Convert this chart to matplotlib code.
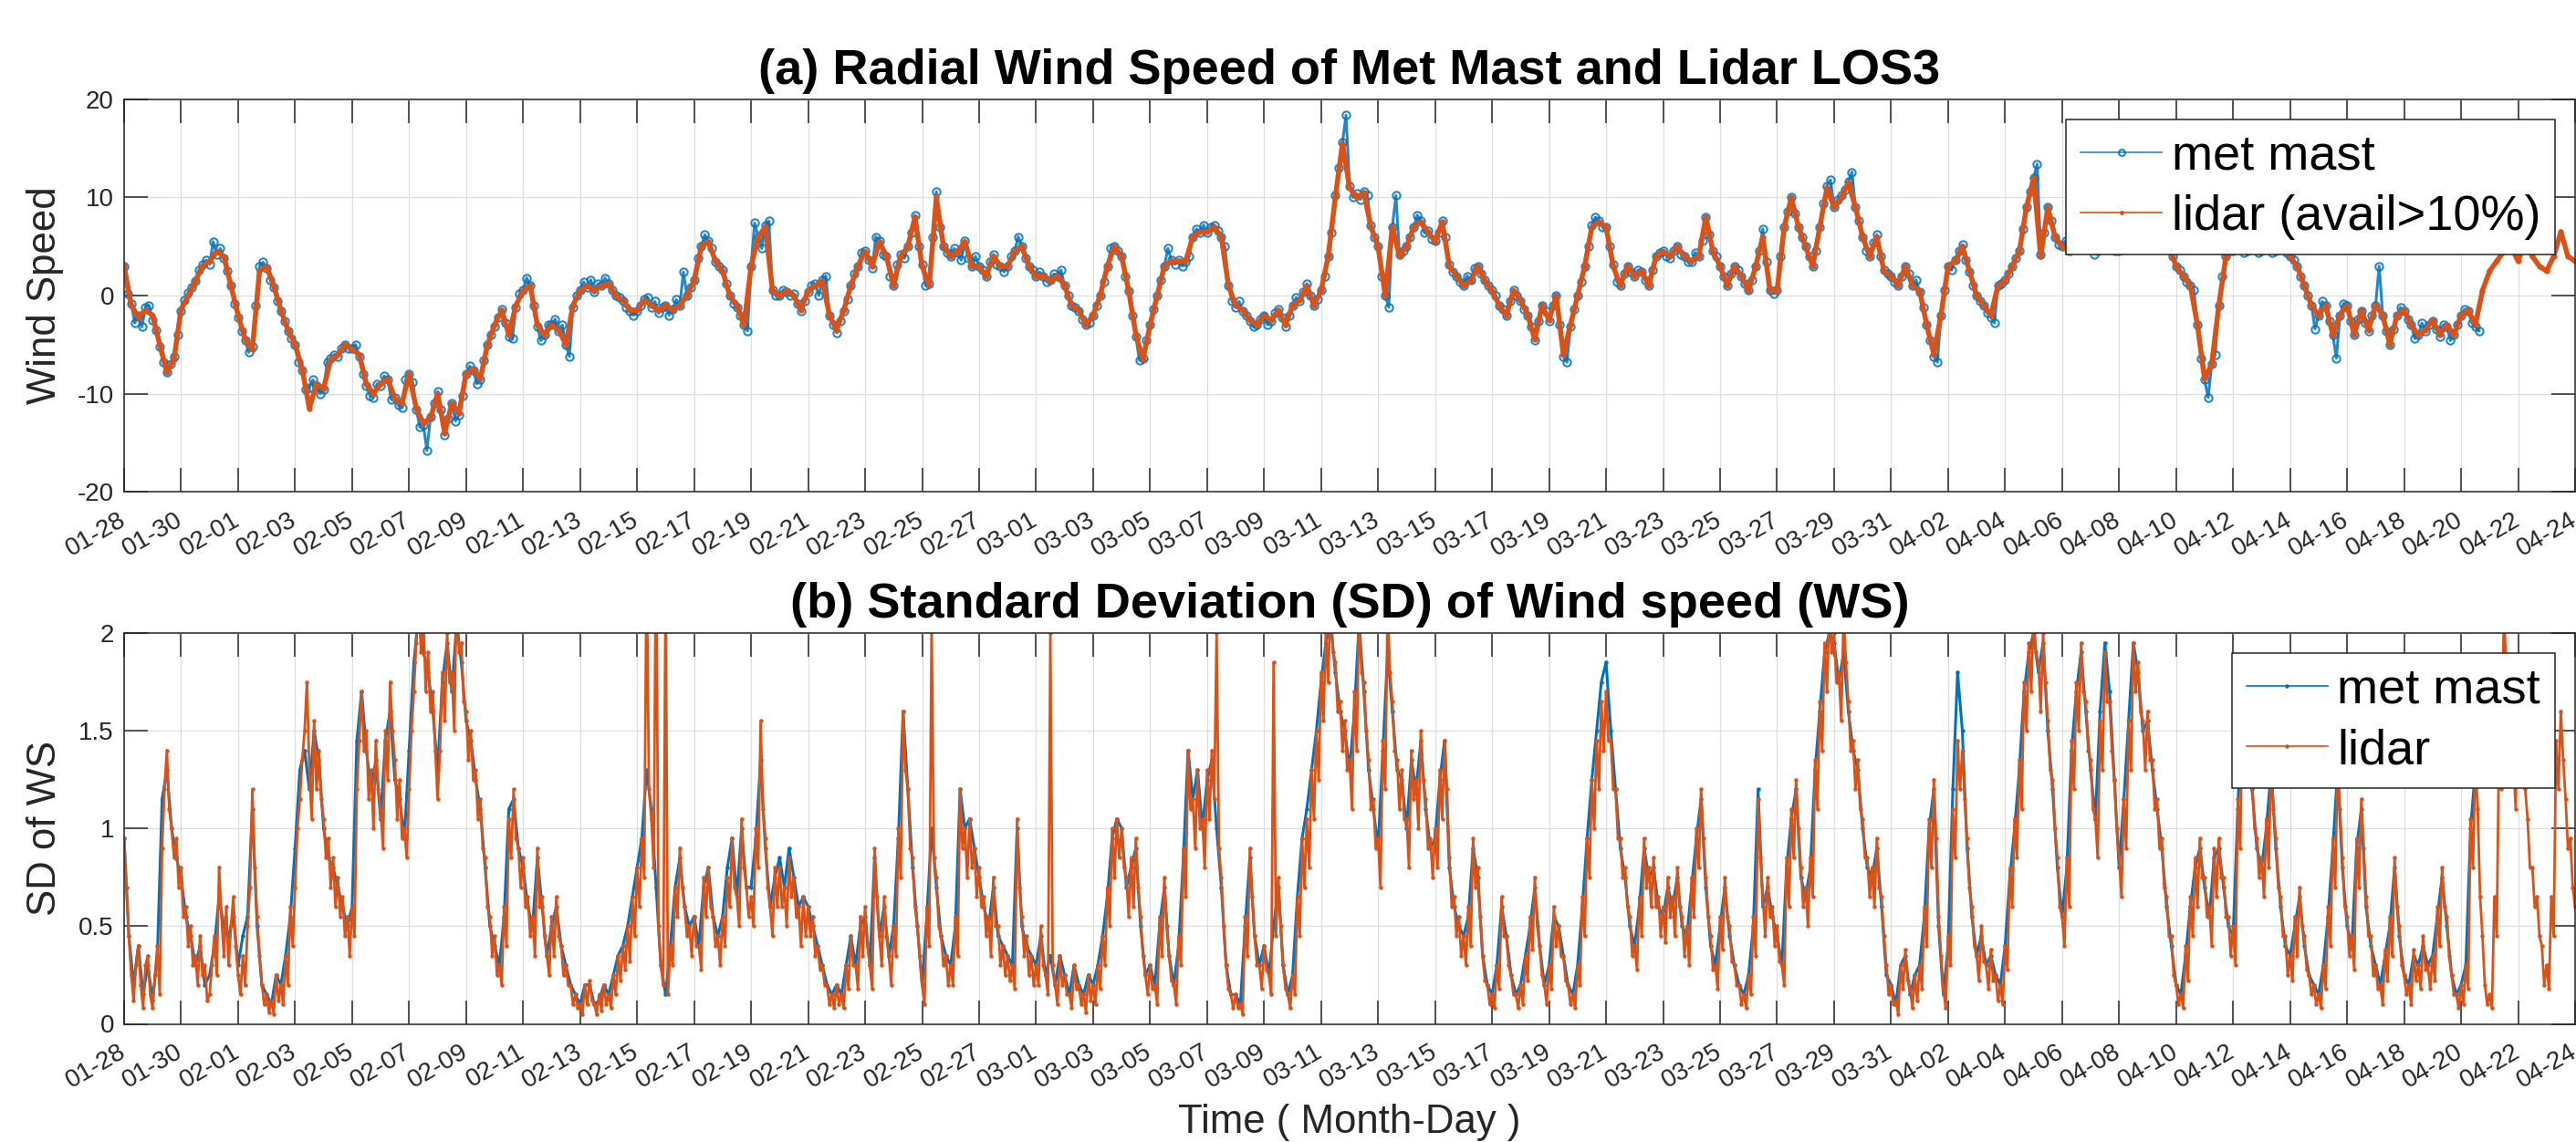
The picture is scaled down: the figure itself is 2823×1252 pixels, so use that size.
import numpy as np
import pandas as pd
import matplotlib
matplotlib.use('Agg')
import matplotlib.pyplot as plt
import matplotlib.dates as mdates

plt.rcParams['font.family'] = ['Liberation Sans', 'DejaVu Sans']
plt.rcParams['axes.unicode_minus'] = False

start = pd.Timestamp('2019-01-28')
end = pd.Timestamp('2019-04-24')

# (a) radial wind speed, met mast, 3-hourly, one row per day from 01-28
ws_mast = [
    [3.0, 0.2, -0.8, -2.8, -2.0, -3.2, -1.2, -1.0],
    [-2.5, -3.5, -5.2, -6.8, -7.8, -7.0, -6.2, -4.0],
    [-1.6, -0.5, 0.3, 0.8, 1.5, 2.6, 3.2, 3.6],
    [3.2, 5.5, 4.2, 4.8, 3.8, 2.5, 1.0, -0.8],
    [-2.2, -3.6, -4.6, -5.8, -5.2, -1.0, 3.0, 3.4],      # 02-01
    [2.8, 1.6, 0.8, -0.6, -1.6, -2.6, -3.6, -4.4],
    [-5.0, -6.8, -7.6, -9.6, -9.4, -8.6, -9.2, -10.0],
    [-9.6, -6.8, -6.4, -6.0, -6.2, -5.4, -5.0, -5.4],
    [-5.4, -5.0, -6.2, -8.0, -9.2, -10.2, -10.4, -9.0],
    [-9.2, -8.2, -8.6, -10.6, -10.4, -11.2, -11.4, -8.6],
    [-8.0, -8.8, -11.6, -13.4, -13.2, -15.8, -12.4, -11.0],
    [-9.8, -11.6, -14.2, -12.6, -11.0, -12.8, -12.2, -10.2],
    [-8.0, -7.2, -7.6, -9.0, -8.6, -6.6, -5.0, -4.0],
    [-3.2, -2.2, -1.4, -2.8, -4.2, -4.4, -1.2, 0.2],
    [0.6, 1.8, 1.0, -1.0, -3.2, -4.6, -4.0, -3.0],
    [-3.0, -2.4, -3.6, -3.0, -5.0, -6.2, -1.2, 0.0],
    [0.6, 1.4, 0.8, 1.6, 0.4, 1.2, 1.0, 1.8],
    [1.2, 0.6, 0.0, -0.2, -0.6, -1.2, -1.6, -2.0],
    [-1.6, -1.0, -0.4, -0.2, -1.2, -0.6, -1.8, -1.2],    # 02-15
    [-1.0, -2.0, -1.4, -0.4, -1.0, 2.4, 0.0, 0.8],
    [1.6, 3.8, 5.0, 6.2, 5.6, 4.8, 3.4, 3.0],
    [2.6, 1.2, 0.0, -0.8, -1.2, -2.0, -3.0, -3.6],
    [3.0, 7.4, 6.0, 4.8, 7.2, 7.6, 0.6, 0.0],
    [0.0, 0.6, 0.4, 0.0, 0.2, -0.8, -1.6, -0.6],
    [0.4, 1.0, 1.2, 0.0, 1.6, 2.0, -2.0, -3.0],
    [-3.8, -2.6, -1.6, -0.4, 1.0, 2.2, 3.0, 4.4],
    [4.6, 3.6, 2.8, 6.0, 5.6, 4.2, 4.0, 2.0],
    [1.0, 3.2, 4.2, 3.8, 5.0, 6.4, 8.2, 5.0],
    [3.2, 1.0, 1.2, 6.0, 10.6, 7.0, 5.0, 4.4],
    [4.0, 4.8, 4.4, 3.6, 5.6, 3.8, 3.0, 4.0],
    [3.0, 2.6, 2.0, 3.4, 4.2, 3.2, 3.0, 2.4],
    [3.0, 4.0, 4.6, 6.0, 5.0, 3.8, 3.0, 2.6],
    [2.0, 2.4, 2.0, 1.4, 1.6, 2.2, 2.0, 2.6],            # 03-01
    [1.0, 0.0, -1.0, -1.2, -1.6, -2.4, -3.0, -2.8],
    [-2.0, -1.0, 0.0, 1.4, 3.0, 4.8, 5.0, 4.6],
    [4.0, 2.0, 0.5, -2.0, -4.2, -6.6, -6.4, -4.6],
    [-3.0, -1.4, 0.0, 1.6, 3.0, 4.8, 3.6, 3.2],
    [3.6, 3.0, 3.4, 4.0, 6.0, 6.8, 6.4, 7.2],
    [6.4, 7.0, 7.2, 6.6, 6.0, 5.0, 1.0, -0.6],
    [-1.2, -0.6, -1.6, -2.0, -2.6, -3.2, -3.0, -2.4],
    [-2.0, -3.0, -2.6, -1.8, -1.4, -2.2, -3.2, -2.0],
    [-1.0, -0.2, -0.6, 0.4, 1.2, 0.0, -1.0, -0.4],
    [0.6, 2.0, 4.0, 6.4, 10.2, 13.0, 15.6, 18.4],
    [11.2, 10.0, 10.4, 9.8, 10.6, 10.2, 7.2, 6.0],
    [5.0, 2.0, 0.0, -1.2, 7.0, 10.2, 4.2, 4.6],
    [5.0, 6.0, 7.0, 8.2, 7.6, 6.4, 6.6, 5.8],
    [5.6, 6.4, 7.6, 6.0, 3.2, 2.4, 2.0, 1.4],            # 03-15
    [1.0, 2.0, 1.6, 2.8, 3.0, 2.2, 1.6, 1.0],
    [0.6, 0.0, -1.0, -1.4, -2.0, -0.6, 0.6, 0.0],
    [-0.6, -1.4, -2.0, -3.2, -4.6, -2.6, -1.0, -1.6],
    [-2.6, -1.0, 0.0, -3.0, -6.2, -6.8, -3.2, -1.4],
    [0.0, 1.4, 3.0, 5.0, 7.2, 8.0, 7.6, 7.0],
    [7.0, 5.0, 3.2, 1.4, 1.0, 2.2, 3.0, 2.4],
    [2.0, 2.6, 2.4, 1.6, 1.0, 2.6, 4.0, 4.4],
    [4.6, 4.0, 3.8, 4.6, 5.0, 4.2, 4.0, 3.4],
    [3.4, 4.4, 4.0, 5.6, 8.0, 6.2, 4.6, 4.0],
    [3.0, 2.0, 1.0, 2.2, 3.0, 2.6, 2.0, 1.2],
    [0.6, 1.6, 3.0, 4.6, 6.8, 3.4, 0.6, 0.2],
    [0.6, 4.0, 7.0, 8.6, 10.0, 8.4, 7.0, 6.0],
    [5.0, 4.0, 3.0, 4.6, 7.0, 9.4, 11.2, 11.8],
    [9.0, 9.8, 10.2, 10.8, 11.6, 12.6, 9.0, 7.6],
    [6.0, 4.6, 4.0, 5.4, 6.2, 4.0, 2.6, 2.2],
    [2.0, 1.4, 1.0, 2.0, 3.0, 2.2, 1.0, 1.6],
    [0.4, -1.2, -3.0, -4.6, -6.2, -6.8, -2.0, 0.6],       # 04-01
    [3.0, 2.6, 3.6, 4.6, 5.2, 3.6, 2.4, 1.0],
    [0.0, -0.6, -1.0, -1.8, -2.2, -2.8, 1.0, 1.2],
    [1.6, 2.2, 3.0, 3.8, 4.6, 6.8, 9.0, 10.6],
    [12.0, 13.4, 4.2, 6.4, 9.0, 7.6, 6.0, 5.2],
    [5.0, 5.6, 4.6, 6.4, 9.2, 7.8, 6.0, 5.0],
    [5.0, 4.2, 4.6, 5.4, 6.0, 5.4, 5.0, 4.6],
    [4.6, 5.2, 6.0, 5.6, 5.0, 5.8, 5.6, 5.0],
    [6.0, 5.4, 6.0, 5.6, 5.0, 5.4, 5.0, 4.0],
    [3.0, 2.6, 2.0, 1.4, 1.0, 0.6, -3.0, -6.4],
    [-8.6, -10.4, -7.0, -6.0, -1.0, 2.0, 4.0, 4.6],
    [4.6, 5.4, 5.0, 4.4, 4.6, 5.6, 5.0, 4.4],
    [4.6, 5.0, 5.0, 4.4, 4.6, 5.4, 5.0, 4.4],
    [4.0, 3.6, 3.0, 2.0, 1.0, 0.0, -1.0, -3.4],
    [-2.0, -0.6, -1.0, -2.6, -4.0, -6.4, -2.0, -0.8],
    [-1.0, -2.6, -4.0, -2.4, -1.6, -2.8, -3.6, -2.0],
    [-1.0, 3.0, -2.0, -3.6, -5.0, -3.4, -2.0, -1.2],
    [-1.6, -2.4, -3.0, -4.4, -4.0, -2.8, -3.6, -3.0],
    [-2.6, -3.4, -4.2, -3.0, -3.2, -4.6, -4.0, -3.0],
    [-2.0, -1.4, -1.6, -2.8, -3.2, -3.6],                # 04-20
]

# (a) radial wind speed, lidar LOS3, 6-hourly, one row per day from 01-28
ws_lidar = [
    [3.0, -1.0, -2.2, -1.5], [-2.0, -5.0, -7.8, -6.5], [-1.4, 0.0, 1.5, 3.0],
    [3.5, 4.5, 4.0, 1.0], [-2.0, -4.5, -5.5, 2.5], [3.0, 1.0, -1.5, -3.5],
    [-5.0, -7.5, -11.5, -9.0], [-9.5, -6.5, -6.0, -5.0], [-5.5, -6.0, -9.0, -10.0],
    [-9.0, -8.5, -10.5, -11.0], [-8.0, -11.5, -13.0, -12.5], [-10.0, -14.0, -11.0, -12.0],
    [-8.0, -7.5, -8.5, -5.0], [-3.0, -1.5, -4.0, -1.0], [0.5, 1.0, -3.0, -4.0],
    [-3.0, -3.5, -5.0, -1.0], [0.5, 1.0, 0.5, 1.0], [1.2, 0.0, -0.5, -1.5],
    [-1.5, -0.5, -1.0, -1.5], [-1.0, -1.5, -1.0, 0.0], [1.5, 5.0, 5.5, 3.5],
    [2.5, 0.0, -1.0, -3.0], [3.0, 6.0, 7.0, 0.5], [0.0, 0.5, 0.0, -1.5],
    [0.5, 1.0, 1.5, -2.0], [-3.5, -1.5, 1.0, 3.0], [4.5, 3.0, 5.5, 4.0],
    [1.0, 4.0, 5.0, 8.0], [3.0, 1.0, 10.0, 5.0], [4.0, 4.5, 5.5, 3.0],
    [3.0, 2.0, 4.0, 3.0], [3.0, 4.5, 5.0, 3.0], [2.0, 2.0, 1.5, 2.0],
    [1.0, -1.0, -1.5, -3.0], [-2.0, 0.0, 3.0, 5.0], [4.0, 0.5, -4.0, -6.5],
    [-3.0, 0.0, 3.0, 3.5], [3.5, 3.5, 6.0, 6.5], [6.5, 7.0, 6.0, 1.0],
    [-1.0, -1.5, -2.5, -3.0], [-2.0, -2.5, -1.5, -3.0], [-1.0, -0.5, 1.0, -1.0],
    [0.5, 4.0, 10.0, 15.5], [11.0, 10.0, 10.5, 7.0], [5.0, 0.0, 7.0, 4.0],
    [5.0, 7.0, 7.5, 6.5], [5.5, 7.5, 3.0, 2.0], [1.0, 1.5, 3.0, 1.5],
    [0.5, -1.0, -2.0, 0.5], [-0.5, -2.0, -4.5, -1.0], [-2.5, 0.0, -6.0, -3.0],
    [0.0, 3.0, 7.0, 7.5], [7.0, 3.0, 1.0, 3.0], [2.0, 2.5, 1.0, 4.0],
    [4.5, 4.0, 5.0, 4.0], [3.5, 4.0, 8.0, 4.5], [3.0, 1.0, 3.0, 2.0],
    [0.5, 3.0, 6.0, 0.5], [0.5, 7.0, 10.0, 7.0], [5.0, 3.0, 7.0, 11.0],
    [9.0, 10.0, 11.5, 9.0], [6.0, 4.0, 6.0, 2.5], [2.0, 1.0, 3.0, 1.0],
    [0.5, -3.0, -6.0, -2.0], [3.0, 3.5, 5.0, 2.5], [0.0, -1.0, -2.0, 1.0],
    [1.5, 3.0, 4.5, 9.0], [12.0, 4.0, 9.0, 6.0], [5.0, 4.5, 9.0, 6.0],
    [5.0, 4.5, 6.0, 5.0], [4.5, 6.0, 5.0, 5.5], [6.0, 6.0, 5.0, 5.0],
    [3.0, 2.0, 1.0, -3.0], [-8.5, -7.0, -1.0, 4.0], [4.5, 5.0, 4.5, 5.0],
    [4.5, 5.0, 4.5, 5.0], [4.0, 3.0, 1.0, -1.0], [-2.0, -1.0, -4.0, -2.0],
    [-1.0, -4.0, -1.5, -3.5], [-1.0, -2.0, -5.0, -2.0], [-1.5, -3.0, -4.0, -3.5],
    [-2.5, -4.0, -3.0, -4.0], [-2.0, -1.5, -3.0, 0.5], [2.5, 3.5, 4.5, 5.0],
    [3.5, 5.5, 4.0, 3.0], [2.5, 4.0, 6.5, 4.0], [3.5],
]

# (b) SD of wind speed, met mast, 4-hourly, one row per day from 01-28
sd_mast = [
    [0.95, 0.45, 0.2, 0.4, 0.15, 0.3], [0.12, 0.35, 1.15, 1.3, 1.0, 0.85],
    [0.75, 0.55, 0.45, 0.3, 0.4, 0.2], [0.25, 0.4, 0.65, 0.5, 0.45, 0.55],
    [0.3, 0.45, 0.55, 1.1, 0.5, 0.2], [0.15, 0.1, 0.25, 0.2, 0.35, 0.55],
    [0.9, 1.3, 1.4, 1.2, 1.5, 1.35], [1.0, 0.85, 0.8, 0.7, 0.6, 0.5],
    [0.6, 1.45, 1.7, 1.4, 1.2, 1.35], [1.05, 1.45, 1.6, 1.25, 1.15, 0.95],
    [1.4, 1.85, 2.1, 1.9, 1.8, 1.6], [1.3, 1.75, 1.95, 1.7, 2.05, 1.85],
    [1.55, 1.45, 1.25, 1.1, 0.8, 0.5], [0.4, 0.3, 0.55, 1.1, 1.15, 0.9],
    [0.8, 0.6, 0.5, 0.85, 0.6, 0.35], [0.5, 0.6, 0.4, 0.3, 0.2, 0.15],
    [0.1, 0.2, 0.2, 0.1, 0.12, 0.2], [0.15, 0.25, 0.35, 0.4, 0.5, 0.65],
    [0.8, 0.95, 1.3, 1.1, 0.7, 0.3], [0.15, 0.4, 0.7, 0.85, 0.6, 0.5],
    [0.55, 0.4, 0.7, 0.8, 0.55, 0.45], [0.55, 0.8, 0.95, 0.65, 1.0, 0.7],
    [0.7, 0.95, 1.35, 0.9, 0.6, 0.75], [0.85, 0.7, 0.9, 0.75, 0.6, 0.65],
    [0.6, 0.5, 0.4, 0.3, 0.2, 0.15], [0.2, 0.15, 0.3, 0.45, 0.3, 0.5],
    [0.55, 0.3, 0.85, 0.45, 0.6, 0.35], [0.5, 0.95, 1.6, 1.2, 0.8, 0.5],
    [0.2, 0.55, 1.0, 0.7, 0.45, 0.35], [0.3, 0.5, 1.2, 1.0, 1.05, 0.9],
    [0.75, 0.6, 0.5, 0.7, 0.45, 0.4], [0.35, 0.3, 1.0, 0.5, 0.4, 0.35],
    [0.3, 0.45, 0.25, 0.35, 0.2, 0.35], [0.25, 0.15, 0.3, 0.2, 0.15, 0.25],
    [0.2, 0.3, 0.45, 0.65, 0.95, 1.05], [1.0, 0.7, 0.8, 0.9, 0.5, 0.25],
    [0.3, 0.2, 0.5, 0.7, 0.35, 0.2], [0.4, 0.85, 1.4, 1.15, 1.3, 1.0],
    [1.25, 1.35, 1.0, 0.7, 0.3, 0.15], [0.15, 0.1, 0.5, 0.85, 0.45, 0.3],
    [0.4, 0.25, 0.5, 0.7, 0.3, 0.15], [0.25, 0.65, 0.95, 1.1, 1.3, 1.5],
    [1.75, 1.95, 2.05, 1.8, 1.6, 1.5], [1.3, 1.6, 2.05, 1.7, 1.3, 1.1],
    [0.9, 1.4, 1.9, 1.6, 1.3, 1.25], [1.0, 1.35, 1.2, 1.45, 1.1, 0.9],
    [0.95, 1.25, 1.45, 0.8, 0.6, 0.5], [0.45, 0.55, 0.9, 0.75, 0.35, 0.2],
    [0.15, 0.3, 0.6, 0.45, 0.25, 0.15], [0.2, 0.35, 0.5, 0.7, 0.4, 0.2],
    [0.3, 0.55, 0.5, 0.35, 0.2, 0.15], [0.3, 0.6, 0.95, 1.25, 1.5, 1.75],
    [1.85, 1.5, 1.2, 0.9, 0.75, 0.5], [0.4, 0.6, 0.9, 0.75, 0.8, 0.6],
    [0.55, 0.7, 0.6, 0.75, 0.5, 0.45], [0.7, 0.95, 1.15, 0.7, 0.4, 0.3],
    [0.5, 0.7, 0.45, 0.3, 0.2, 0.15], [0.25, 0.5, 1.2, 0.6, 0.7, 0.55],
    [0.45, 0.3, 0.8, 1.05, 1.2, 0.75], [0.65, 0.8, 1.3, 1.6, 1.9, 2.0],
    [1.95, 1.75, 1.9, 1.6, 1.4, 1.3], [1.0, 0.8, 0.75, 0.9, 0.6, 0.25],
    [0.2, 0.1, 0.3, 0.35, 0.15, 0.25], [0.3, 0.55, 1.0, 1.2, 0.5, 0.15],
    [0.4, 1.2, 1.8, 1.5, 0.9, 0.55], [0.35, 0.45, 0.3, 0.35, 0.25, 0.2],
    [0.4, 0.75, 1.0, 1.3, 1.7, 1.9], [2.0, 1.8, 1.95, 1.5, 1.2, 0.8],
    [0.55, 0.8, 1.4, 1.7, 1.9, 1.6], [1.3, 1.05, 1.6, 1.95, 1.7, 1.25],
    [0.8, 1.15, 1.55, 1.95, 1.8, 1.5], [1.55, 1.3, 1.1, 0.9, 0.6, 0.4],
    [0.2, 0.15, 0.35, 0.6, 0.8, 0.9], [0.7, 0.55, 0.85, 0.9, 0.7, 0.5],
    [0.45, 1.1, 1.7, 1.5, 1.2, 0.9], [0.8, 1.0, 1.3, 0.9, 0.6, 0.4],
    [0.35, 0.5, 0.65, 0.4, 0.25, 0.2], [0.15, 0.3, 0.55, 0.9, 1.3, 0.8],
    [0.5, 0.4, 0.9, 1.1, 0.6, 0.4], [0.3, 0.2, 0.35, 0.5, 0.8, 0.45],
    [0.25, 0.2, 0.35, 0.3, 0.4, 0.3], [0.35, 0.55, 0.75, 0.5, 0.25, 0.15],
    [0.2, 0.3, 1.0, 1.3],
]

# (b) SD of wind speed, lidar, 2-hourly, one row per day from 01-28
sd_lidar = [
    [0.95, 0.7, 0.45, 0.25, 0.12, 0.3, 0.4, 0.2, 0.08, 0.3, 0.35, 0.15],
    [0.08, 0.25, 0.4, 0.15, 0.9, 1.2, 1.4, 1.1, 1.0, 0.85, 0.95, 0.7],
    [0.8, 0.55, 0.6, 0.4, 0.5, 0.3, 0.35, 0.2, 0.45, 0.25, 0.3, 0.12],
    [0.15, 0.3, 0.45, 0.25, 0.8, 0.55, 0.35, 0.6, 0.3, 0.5, 0.65, 0.4],
    [0.25, 0.15, 0.35, 0.2, 0.5, 0.7, 1.2, 0.8, 0.55, 0.35, 0.2, 0.1],      # 02-01
    [0.15, 0.06, 0.12, 0.05, 0.25, 0.12, 0.2, 0.1, 0.35, 0.2, 0.6, 0.4],
    [0.7, 1.0, 1.15, 1.35, 1.5, 1.75, 1.3, 1.05, 1.55, 1.2, 1.4, 1.15],
    [1.05, 0.85, 0.95, 0.7, 0.85, 0.6, 0.75, 0.55, 0.65, 0.45, 0.55, 0.35],
    [0.6, 0.45, 1.2, 1.45, 1.7, 1.4, 1.5, 1.15, 1.3, 1.0, 1.45, 1.2],
    [1.1, 0.9, 1.5, 1.25, 1.75, 1.5, 1.35, 1.05, 1.25, 0.95, 1.0, 0.85],
    [1.2, 1.5, 1.7, 1.95, 2.2, 1.9, 2.1, 1.7, 1.9, 1.6, 1.7, 1.4],
    [1.15, 1.4, 1.8, 1.55, 2.0, 1.75, 1.8, 1.5, 2.2, 1.9, 1.95, 1.65],
    [1.6, 1.35, 1.5, 1.25, 1.3, 1.05, 1.15, 0.9, 0.85, 0.6, 0.55, 0.35],
    [0.45, 0.25, 0.3, 0.2, 0.6, 0.4, 1.05, 0.85, 1.2, 0.95, 0.9, 0.7],
    [0.85, 0.6, 0.65, 0.45, 0.55, 0.35, 0.9, 0.6, 0.65, 0.45, 0.35, 0.25],
    [0.55, 0.35, 0.65, 0.45, 0.4, 0.25, 0.3, 0.2, 0.2, 0.1, 0.15, 0.08],
    [0.1, 0.05, 0.2, 0.1, 0.22, 0.12, 0.1, 0.05, 0.15, 0.07, 0.2, 0.1],
    [0.15, 0.08, 0.25, 0.15, 0.35, 0.22, 0.4, 0.28, 0.5, 0.32, 0.65, 0.45],
    [0.8, 0.6, 0.95, 0.75, 2.4, 1.2, 1.05, 0.8, 2.6, 0.5, 0.3, 0.2],        # 02-15
    [2.3, 0.15, 0.4, 0.3, 0.7, 0.55, 0.9, 0.7, 0.6, 0.45, 0.5, 0.35],
    [0.55, 0.4, 0.4, 0.28, 0.75, 0.55, 0.8, 0.6, 0.55, 0.4, 0.45, 0.3],
    [0.55, 0.4, 0.75, 0.6, 0.95, 0.7, 0.65, 0.5, 1.05, 0.8, 0.7, 0.55],
    [0.65, 0.5, 1.0, 0.8, 1.55, 1.1, 0.95, 0.7, 0.6, 0.45, 0.8, 0.6],
    [0.8, 0.6, 0.7, 0.5, 0.85, 0.65, 0.75, 0.55, 0.6, 0.4, 0.65, 0.45],
    [0.6, 0.45, 0.55, 0.35, 0.4, 0.28, 0.3, 0.2, 0.2, 0.1, 0.15, 0.08],
    [0.2, 0.1, 0.15, 0.08, 0.3, 0.18, 0.45, 0.3, 0.3, 0.18, 0.55, 0.35],
    [0.6, 0.4, 0.3, 0.18, 0.9, 0.65, 0.45, 0.3, 0.65, 0.45, 0.35, 0.2],
    [0.5, 0.35, 1.0, 0.75, 1.6, 1.3, 1.2, 0.9, 0.85, 0.6, 0.5, 0.35],
    [0.2, 0.1, 0.6, 0.4, 2.05, 0.85, 0.75, 0.5, 0.45, 0.3, 0.35, 0.2],
    [0.3, 0.2, 0.55, 0.35, 1.2, 0.9, 1.0, 0.75, 1.05, 0.8, 0.9, 0.65],
    [0.8, 0.6, 0.65, 0.45, 0.55, 0.35, 0.75, 0.5, 0.5, 0.3, 0.4, 0.25],
    [0.35, 0.22, 0.3, 0.18, 1.05, 0.7, 0.55, 0.35, 0.45, 0.25, 0.35, 0.2],
    [0.3, 0.2, 0.5, 0.3, 0.25, 0.15, 2.0, 0.3, 0.2, 0.1, 0.35, 0.2],        # 03-01
    [0.25, 0.15, 0.15, 0.08, 0.3, 0.18, 0.2, 0.1, 0.15, 0.06, 0.25, 0.12],
    [0.2, 0.1, 0.3, 0.18, 0.45, 0.3, 0.7, 0.5, 1.0, 0.75, 1.05, 0.85],
    [1.0, 0.8, 0.75, 0.55, 0.85, 0.6, 0.95, 0.7, 0.55, 0.35, 0.25, 0.15],
    [0.3, 0.18, 0.2, 0.1, 0.55, 0.35, 0.75, 0.5, 0.35, 0.22, 0.2, 0.1],
    [0.45, 0.3, 0.9, 0.65, 1.4, 1.1, 1.15, 0.9, 1.3, 1.0, 1.05, 0.8],
    [1.3, 1.05, 1.4, 1.15, 2.0, 0.9, 0.75, 0.5, 0.3, 0.18, 0.15, 0.08],
    [0.15, 0.08, 0.1, 0.05, 0.55, 0.35, 0.9, 0.65, 0.45, 0.3, 0.3, 0.18],
    [0.4, 0.28, 0.25, 0.15, 1.85, 0.45, 0.75, 0.5, 0.3, 0.18, 0.15, 0.08],
    [0.25, 0.15, 0.65, 0.45, 0.95, 0.7, 1.05, 0.8, 1.3, 1.05, 1.5, 1.25],
    [1.8, 1.55, 2.0, 1.75, 2.2, 1.9, 1.85, 1.6, 1.65, 1.4, 1.55, 1.3],
    [1.35, 1.1, 1.7, 1.4, 2.15, 1.8, 1.75, 1.5, 1.35, 1.1, 1.15, 0.9],
    [0.95, 0.7, 1.45, 1.2, 2.15, 1.8, 1.65, 1.4, 1.35, 1.1, 1.3, 1.05],
    [1.05, 0.8, 1.4, 1.15, 1.25, 1.0, 1.5, 1.25, 1.15, 0.9, 0.95, 0.75],
    [1.0, 0.8, 1.3, 1.05, 1.45, 1.2, 0.85, 0.6, 0.65, 0.45, 0.55, 0.35],    # 03-15
    [0.45, 0.3, 0.6, 0.4, 0.95, 0.7, 0.8, 0.55, 0.35, 0.22, 0.2, 0.1],
    [0.15, 0.08, 0.3, 0.18, 0.65, 0.45, 0.45, 0.3, 0.25, 0.15, 0.15, 0.08],
    [0.2, 0.1, 0.35, 0.22, 0.55, 0.38, 0.75, 0.5, 0.4, 0.25, 0.2, 0.1],
    [0.3, 0.18, 0.6, 0.4, 0.5, 0.35, 0.35, 0.22, 0.2, 0.1, 0.15, 0.08],
    [0.3, 0.2, 0.65, 0.45, 0.95, 0.75, 1.25, 1.0, 1.45, 1.2, 1.65, 1.4],
    [1.7, 1.45, 1.45, 1.2, 1.2, 0.95, 0.95, 0.75, 0.8, 0.6, 0.55, 0.35],
    [0.4, 0.28, 0.65, 0.45, 0.95, 0.7, 0.8, 0.6, 0.85, 0.6, 0.65, 0.45],
    [0.6, 0.42, 0.75, 0.55, 0.65, 0.45, 0.8, 0.6, 0.55, 0.35, 0.5, 0.3],
    [0.75, 0.55, 1.0, 0.8, 1.2, 0.95, 0.75, 0.55, 0.45, 0.28, 0.3, 0.18],
    [0.55, 0.38, 0.75, 0.55, 0.5, 0.32, 0.3, 0.2, 0.2, 0.1, 0.15, 0.08],
    [0.25, 0.15, 0.55, 0.35, 1.15, 0.85, 0.65, 0.45, 0.75, 0.55, 0.6, 0.4],
    [0.5, 0.32, 0.3, 0.2, 0.85, 0.6, 1.1, 0.85, 1.25, 1.0, 0.8, 0.6],
    [0.7, 0.5, 0.85, 0.65, 1.35, 1.1, 1.65, 1.4, 1.95, 1.7, 2.1, 1.9],
    [2.0, 1.75, 1.8, 1.55, 2.1, 1.85, 1.65, 1.4, 1.45, 1.2, 1.35, 1.1],
    [1.05, 0.85, 0.85, 0.65, 0.8, 0.6, 0.95, 0.7, 0.65, 0.45, 0.3, 0.15],
    [0.2, 0.1, 0.12, 0.05, 0.3, 0.18, 0.38, 0.22, 0.18, 0.08, 0.25, 0.12],
    [0.3, 0.18, 0.6, 0.4, 1.05, 0.8, 1.25, 0.95, 0.55, 0.35, 0.18, 0.08],   # 04-01
    [0.45, 0.3, 1.1, 0.85, 1.45, 1.2, 1.4, 1.15, 0.95, 0.7, 0.6, 0.4],
    [0.35, 0.22, 0.5, 0.32, 0.3, 0.18, 0.38, 0.22, 0.25, 0.12, 0.2, 0.1],
    [0.4, 0.28, 0.8, 0.6, 1.05, 0.85, 1.35, 1.1, 1.75, 1.5, 1.95, 1.7],
    [2.1, 1.9, 1.85, 1.6, 2.0, 1.75, 1.55, 1.3, 1.25, 1.0, 0.85, 0.6],
    [0.55, 0.4, 0.85, 0.6, 1.45, 1.2, 1.75, 1.5, 1.95, 1.7, 1.65, 1.4],
    [1.35, 1.1, 1.05, 0.85, 1.55, 1.3, 1.9, 1.65, 1.65, 1.4, 1.25, 1.0],
    [0.85, 0.65, 1.15, 0.9, 1.55, 1.3, 1.95, 1.7, 1.85, 1.6, 1.55, 1.3],
    [1.6, 1.35, 1.35, 1.1, 1.15, 0.9, 0.95, 0.7, 0.65, 0.45, 0.45, 0.25],
    [0.2, 0.1, 0.15, 0.08, 0.4, 0.22, 0.65, 0.45, 0.85, 0.6, 0.95, 0.75],
    [0.75, 0.55, 0.6, 0.4, 0.9, 0.65, 0.95, 0.75, 0.75, 0.55, 0.55, 0.35],
    [0.5, 0.3, 1.15, 0.9, 1.75, 1.5, 1.55, 1.3, 1.25, 1.0, 0.95, 0.75],
    [0.85, 0.65, 1.05, 0.8, 1.35, 1.1, 0.95, 0.7, 0.65, 0.45, 0.45, 0.25],
    [0.35, 0.22, 0.55, 0.35, 0.7, 0.5, 0.45, 0.28, 0.25, 0.15, 0.2, 0.1],
    [0.15, 0.08, 0.3, 0.18, 0.6, 0.4, 0.95, 0.7, 1.35, 1.1, 0.85, 0.6],
    [0.55, 0.35, 0.45, 0.28, 0.95, 0.7, 1.15, 0.9, 0.65, 0.45, 0.45, 0.25],
    [0.3, 0.18, 0.2, 0.1, 0.38, 0.22, 0.55, 0.35, 0.85, 0.6, 0.5, 0.3],
    [0.25, 0.15, 0.2, 0.1, 0.38, 0.22, 0.3, 0.18, 0.45, 0.28, 0.3, 0.18],
    [0.35, 0.22, 0.6, 0.4, 0.8, 0.6, 0.55, 0.35, 0.25, 0.15, 0.15, 0.08],
    [0.2, 0.1, 0.3, 0.18, 1.05, 0.8, 1.35, 1.1, 0.65, 0.45, 0.2, 0.1],       # 04-20
    [0.15, 0.08, 0.65, 0.45, 1.45, 1.2, 2.1, 1.85, 1.65, 1.4, 1.35, 1.1],
    [1.75, 1.5, 1.45, 1.2, 1.05, 0.8, 0.8, 0.6, 0.65, 0.45, 0.4, 0.2],
    [0.3, 0.18, 0.65, 0.45, 1.45, 1.2, 1.6, 1.35, 1.15, 0.9, 0.95, 0.7],
    [0.6],
]

blue = '#0072BD'
orange = '#D95319'
dark = '#262626'


def series(rows, hours):
    t, v = [], []
    for d, row in enumerate(rows):
        for k, val in enumerate(row):
            t.append(start + pd.Timedelta(days=d, hours=k * hours))
            v.append(val)
    return t, v


def style(ax):
    ax.set_xlim(start, end)
    ax.set_xticks(pd.date_range(start, end, freq='2D'))
    ax.xaxis.set_major_formatter(mdates.DateFormatter('%m-%d'))
    ax.grid(True, color='#dedede', lw=0.9)
    ax.set_axisbelow(True)
    for s in ax.spines.values():
        s.set_color(dark)
        s.set_linewidth(1.1)
    ax.tick_params(direction='in', length=19, width=1.1, color=dark,
                   top=True, right=True, labelsize=20, labelcolor=dark)
    ax.tick_params(axis='y', pad=8)
    ax.tick_params(axis='x', pad=21)
    for lab in ax.get_xticklabels():
        lab.set_rotation(30)
        lab.set_ha('right')
        lab.set_va('center')
        lab.set_rotation_mode('anchor')


fig = plt.figure(figsize=(28.23, 12.52), dpi=100)
ax1 = fig.add_axes([136 / 2823, 1 - 539 / 1252, 2686 / 2823, 430 / 1252])
ax2 = fig.add_axes([136 / 2823, 1 - 1122.5 / 1252, 2686 / 2823, 428.5 / 1252])

t, v = series(ws_mast, 3)
ax1.plot(t, v, '-o', color=blue, ms=6, mfc='none', mew=1.5, lw=2.2, alpha=0.85, label='met mast')
t, v = series(ws_lidar, 6)
ax1.plot(t, v, '-', marker='.', color=orange, ms=7, lw=4.0, label='lidar (avail>10%)')
ax1.set_ylim(-20, 20)
ax1.set_yticks([-20, -10, 0, 10, 20])
style(ax1)
ax1.set_ylabel('Wind Speed', fontsize=31.5, color=dark)
ax1.yaxis.set_label_coords(-0.0245, 0.5)
ax1.set_title('(a) Radial Wind Speed of Met Mast and Lidar LOS3', fontsize=39, fontweight='bold', pad=12)
leg = ax1.legend(loc='upper right', fontsize=39, fancybox=False, edgecolor=dark, framealpha=1,
                 handlelength=1.63, handletextpad=0.2, borderpad=0.3, labelspacing=0.3,
                 borderaxespad=0.4)
leg.get_frame().set_linewidth(1.1)
for h in leg.get_lines():
    h.set_linewidth(1.2)
    h.set_markersize(5)

t, v = series(sd_mast, 4)
ax2.plot(t, v, '-', marker='.', color=blue, ms=4.5, lw=2.2, label='met mast')
t, v = series(sd_lidar, 2)
ax2.plot(t, v, '-', marker='.', color=orange, ms=4.5, lw=2.0, label='lidar')
ax2.set_ylim(0, 2)
ax2.set_yticks([0, 0.5, 1, 1.5, 2])
ax2.set_yticklabels(['0', '0.5', '1', '1.5', '2'])
style(ax2)
ax2.set_ylabel('SD of WS', fontsize=31.5, color=dark)
ax2.yaxis.set_label_coords(-0.0245, 0.5)
ax2.set_xlabel('Time ( Month-Day )', fontsize=31.5, color=dark)
ax2.xaxis.set_label_coords(0.5, -0.204)
ax2.set_title('(b) Standard Deviation (SD) of Wind speed (WS)', fontsize=39, fontweight='bold', pad=12)
leg = ax2.legend(loc='upper right', fontsize=39, fancybox=False, edgecolor=dark, framealpha=1,
                 handlelength=1.63, handletextpad=0.2, borderpad=0.3, labelspacing=0.3,
                 borderaxespad=0.4)
leg.get_frame().set_linewidth(1.1)
for h in leg.get_lines():
    h.set_linewidth(1.2)

fig.savefig('out.png', dpi=100)
